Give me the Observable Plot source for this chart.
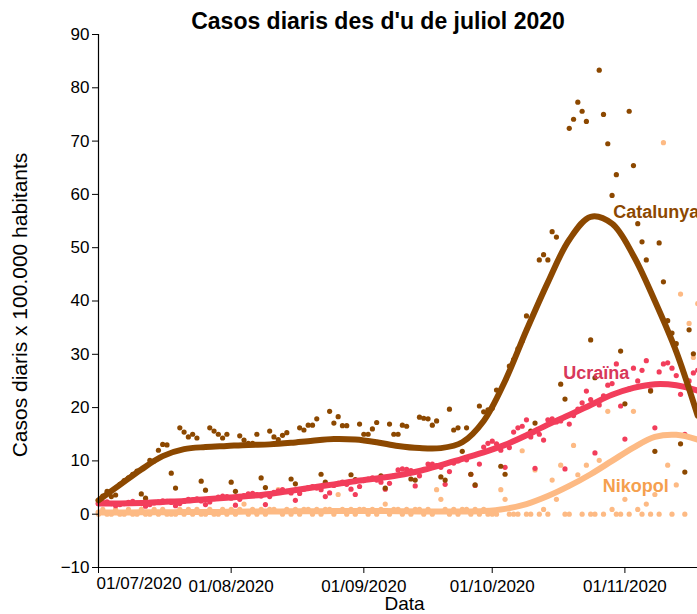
<!DOCTYPE html>
<html><head><meta charset="utf-8">
<script src="https://cdn.jsdelivr.net/npm/d3@7"></script>
<script src="https://cdn.jsdelivr.net/npm/@observablehq/plot@0.6"></script>
<style>
html,body{margin:0;padding:0;background:#fff;overflow:hidden;}
#wrap{position:relative;width:756px;}
#title{position:absolute;left:0;top:9px;width:756px;text-align:center;font-family:"Liberation Sans",Arial,sans-serif;font-weight:bold;font-size:23px;line-height:24px;color:#000;}
</style></head><body>
<div id="wrap"><div id="title">Casos diaris des d'u de juliol 2020</div><div id="chart"></div></div>
<script>
// Daily cases per 100,000 inhabitants, one value per day starting 1 July 2020
const catalunya = [2.5,3.4,4.3,3.3,3.6,5.6,6.3,
6.8,7.5,8.1,3.8,3.0,10.1,10.0,
12.0,13.1,13.0,7.7,4.9,16.2,15.4,
14.5,15.0,14.3,6.2,4.5,16.2,15.6,
15.0,14.3,15.0,6.0,4.3,14.7,13.9,
13.3,13.3,15.0,6.8,5.0,15.6,14.5,
14.0,14.8,15.3,6.6,5.7,16.2,15.8,
16.7,16.7,17.9,7.5,6.0,19.3,17.1,
18.3,16.6,16.6,7.4,6.5,16.9,15.0,
15.0,16.0,17.2,7.2,4.9,16.9,15.0,
15.0,16.7,16.5,6.6,6.4,18.2,18.0,
17.9,16.7,17.5,7.0,6.4,19.7,15.8,
16.2,11.8,16.2,7.5,5.5,20.3,19.2,
19.6,19.9,23.3,9.0,7.5,27.8,29.0,
31.0,32.5,37.2,15.6,17.1,47.7,48.7,
47.7,53.0,52.0,24.4,21.6,72.4,74.1,
77.3,75.6,73.7,32.7,25.6,83.3,75.0,
69.5,59.8,63.7,30.6,20.7,75.6,65.4,
54.5,51.1,47.7,23.1,11.8,50.9,43.6,
36.3,34.0,32.0,13.2,7.9,34.6,30.1];

const ucraina = [2.0,2.2,2.3,2.0,1.6,1.8,2.0,
2.2,2.4,2.1,2.0,1.5,1.8,2.1,
2.3,2.5,2.4,2.2,1.6,2.0,2.4,
2.8,2.7,2.9,2.5,1.8,2.3,2.9,
3.2,3.4,3.3,3.0,1.7,2.8,3.5,
3.8,3.9,3.7,3.4,1.8,3.3,4.1,
4.4,4.6,4.3,4.0,2.6,3.9,4.7,
5.0,5.2,4.9,4.6,3.3,4.0,5.4,
5.8,6.0,5.6,4.7,3.7,5.2,6.3,
6.6,6.8,6.4,6.0,4.7,5.8,7.2,
8.3,8.5,8.4,8.2,5.3,7.2,8.4,
9.4,9.4,9.1,8.8,5.6,8.0,9.6,
10.0,10.4,10.2,7.5,5.4,9.4,12.6,
13.3,13.7,13.2,12.0,8.8,12.5,15.4,
16.2,16.5,17.7,14.5,8.6,15.0,13.9,
17.7,17.9,17.3,17.5,8.5,16.9,18.5,
19.7,20.9,23.1,21.5,11.5,20.5,22.2,
24.2,24.5,28.2,20.3,14.1,23.5,27.4,
25.0,27.0,28.8,23.3,16.2,26.7,28.2,
28.4,27.4,26.0,22.5,15.0,25.0,26.5,
27.0,25.5];

const nikopol = [0,0.9,0,0,0.9,0,0,
0.9,0,0,0.9,0,0,0.9,
0,0.9,0,0,0,0.9,0,
0.9,0,0.9,0,0,0.9,0,
0,0.9,0,0.9,0,0.9,1.9,
0,0.9,0,0.9,0,0.9,0.9,
4.6,0,0.9,0,0.9,0,0.9,
0.9,0,0.9,0,0.9,0.9,0,
3.7,0.9,0,0.9,0,0.9,0.9,
0,0.9,0,0.9,1.9,0,0.9,
0.9,0,0.9,0,0.9,0.9,0,
0.9,0,4.6,2.8,0.9,0,0.9,
0,0.9,0.9,0,0.9,0,0.9,
0,0,0,4.6,2.8,0,0,
0,11.9,0,0,8.3,0,0.9,
0,6.4,2.8,9.2,0,0,12.9,
7.4,0,9.2,0,0,10.1,0,
19.3,0.9,0,0,2.8,0,19.3,
0.9,0,1.9,0,3.7,0,69.7,
9.2,0,5.5,41.3,0,35.8,29.4,
39.5,25.7];

// Smoothed trend, every 5 days from 1 July
const smoothDays = [0,5,10,15,20,25,30,35,40,45,50,55,60,65,70,75,80,85,90,95,100,105,110,115,120,125,130,135,140];
const catalunyaTrend = [2.6,5.5,8.4,10.9,12.2,12.6,12.8,13.0,13.1,13.4,13.8,14.1,14.0,13.5,12.8,12.4,12.4,13.5,17.5,25.0,34.5,43.5,51.5,55.8,54.5,48.5,40.0,30.5,18.5];
const ucrainaTrend = [2.0,2.0,2.1,2.3,2.5,2.8,3.1,3.4,3.8,4.4,5.0,5.6,6.2,6.7,7.3,8.1,9.2,10.4,11.6,13.0,14.8,16.8,18.6,20.5,22.4,23.7,24.4,24.2,23.2];
const nikopolTrend = [0.3,0.3,0.35,0.35,0.4,0.4,0.45,0.5,0.5,0.55,0.55,0.6,0.6,0.6,0.55,0.5,0.5,0.5,0.6,1.0,1.9,3.4,5.3,7.5,10.0,12.5,14.5,14.9,14.0];

// Series labels (name, day offset, value)
const labelNames = ["Catalunya", "Ucraïna", "Nikopol"];
const labelDays = [120.3, 108.6, 117.8];
const labelValues = [56.6, 26.5, 5.3];

const yTicks = [-10,0,10,20,30,40,50,60,70,80,90];
const xTickDays = [0, 31, 62, 92, 123];
const domainEndDay = 143;

// ---- styles ----
const colors = {Catalunya: "#8c4800", "Ucraïna": "#f23d5b", Nikopol: "#fdba84"};
const labelColors = {Catalunya: "#8c4800", "Ucraïna": "#d8385a", Nikopol: "#f5a04e"};

const DAY = 864e5;
const t0 = Date.UTC(2020, 6, 1);
const dayDate = d => new Date(t0 + d * DAY);
const fmt = d3.utcFormat("%d/%m/%Y");

const series = [["Nikopol", nikopol, nikopolTrend], ["Ucraïna", ucraina, ucrainaTrend], ["Catalunya", catalunya, catalunyaTrend]];
const dotMarks = [], lineMarks = [];
for (const [name, vals, trend] of series) {
  const pts = vals.map((v, i) => ({date: dayDate(i), value: v}));
  const tr = trend.map((v, i) => ({date: dayDate(smoothDays[i]), value: v}));
  dotMarks.push(Plot.dot(pts, {x: "date", y: "value", r: 2.6, fill: colors[name], stroke: "none"}));
  lineMarks.push(Plot.line(tr, {x: "date", y: "value", stroke: colors[name], strokeWidth: 6, curve: "catmull-rom"}));
}
const labels = labelNames.map((n, i) => ({name: n, date: dayDate(labelDays[i]), value: labelValues[i]}));
const xTicks = xTickDays.map(dayDate);

const chart = Plot.plot({
  width: 756, height: 614,
  marginLeft: 98, marginRight: 46, marginTop: 34, marginBottom: 47,
  style: {fontFamily: "'Liberation Sans', Arial, sans-serif", fontSize: "17px", color: "#000", background: "#fff", overflow: "visible"},
  x: {type: "utc", domain: [dayDate(0), dayDate(domainEndDay)]},
  y: {domain: [-10, 90]},
  marks: [
    ...dotMarks,
    ...lineMarks,
    Plot.text(labels, {x: "date", y: "value", text: "name", fill: d => labelColors[d.name], textAnchor: "start", fontWeight: "bold", fontSize: 18}),
    Plot.ruleX([dayDate(0)], {stroke: "#000", strokeWidth: 1.2}),
    Plot.ruleY([-10], {stroke: "#000", strokeWidth: 1.2}),
    Plot.axisY({ticks: yTicks, tickSize: 6, tickPadding: 3, label: null, fontSize: 17}),
    Plot.axisX({ticks: xTicks, tickSize: 6, tickPadding: 6, label: null, fontSize: 17, tickFormat: d => (+d === t0 ? "" : fmt(d))}),
    Plot.text([dayDate(0)], {x: d => d, frameAnchor: "bottom", dy: 21, text: d => fmt(d), textAnchor: "start", dx: -2, fontSize: 17}),
    Plot.text(["Data"], {frameAnchor: "bottom", dy: 42, text: d => d, fontSize: 19}),
    Plot.text(["Casos diaris x 100.000 habitants"], {frameAnchor: "left", textAnchor: "middle", dx: -78, dy: 4, rotate: -90, text: d => d, fontSize: 21})
  ]
});
document.getElementById("chart").appendChild(chart);
</script>
</body></html>
